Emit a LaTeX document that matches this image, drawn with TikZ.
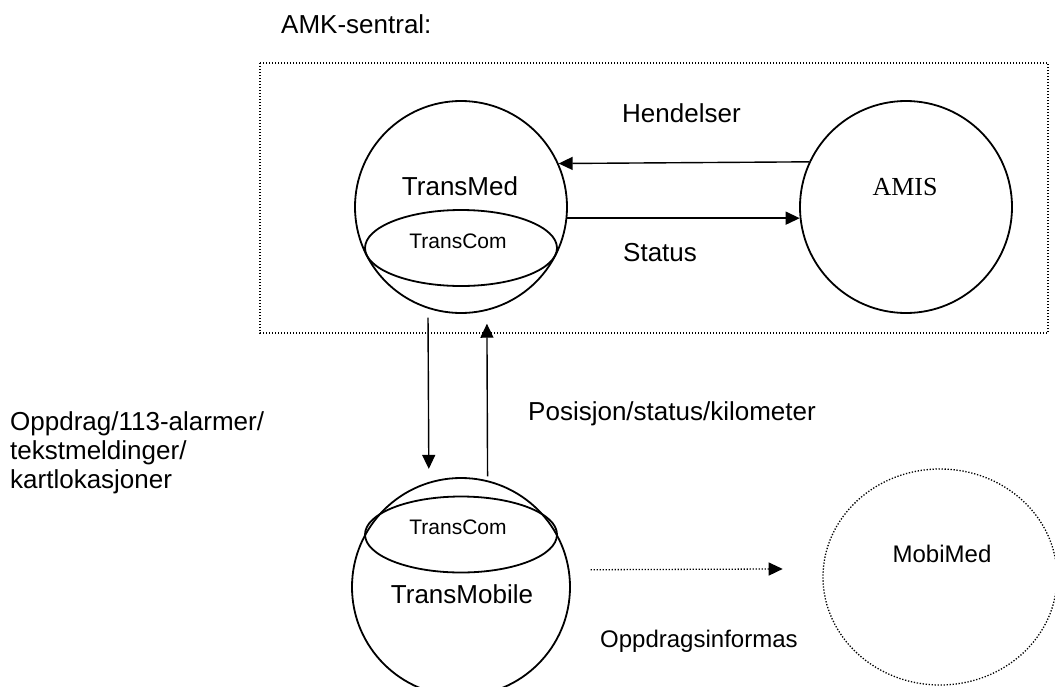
\documentclass[tikz,border=0pt]{standalone}
\usepackage{fontspec}
\setmainfont{Liberation Sans}
\newfontfamily\timesfont{Liberation Serif}
\usetikzlibrary{arrows.meta,shapes.geometric}
\begin{document}
\begin{tikzpicture}[x=1pt,y=-1pt,
  bubble/.style={circle,draw,line width=1.8pt,inner sep=0pt,minimum size=#1},
  comp/.style={ellipse,draw,line width=1.8pt,inner sep=0pt,minimum width=192pt,minimum height=76pt},
  lbl/.style={inner sep=0pt,font=\fontsize{26}{30}\selectfont},
  lblsmall/.style={inner sep=0pt,font=\fontsize{21}{25}\selectfont},
  lblmid/.style={inner sep=0pt,font=\fontsize{24}{28}\selectfont},
  flow/.style={line width=1.4pt,-{Triangle[length=14pt,width=13pt]}},
  dots/.style={line width=1.3pt,dash pattern=on 1.3pt off 1.7pt}]
\useasboundingbox (0,0) rectangle (1055,686);

% AMK-sentral box
\draw[dots] (260,63) rectangle (1048,333);
\node[lbl,anchor=base west] (amk) at (281,33) {AMK-sentral:};

% TransMed
\node[bubble=212pt] (TransMed) at (461,207) {};
\node[comp] (TransComA) at (461,248) {};
\node[lbl,anchor=base] (tmedtxt) at (460,195) {TransMed};
\node[lblsmall,anchor=base] (tcomAtxt) at (458,248) {TransCom};

% AMIS
\node[bubble=212pt] (AMIS) at (906,207) {};
\node[lbl,anchor=base] (amistxt) at (905,195) {\timesfont AMIS};

\draw[flow] (AMIS.155.5) -- (TransMed.24.5);
\draw[flow] (TransMed.-6) -- (AMIS.186);
\node[lbl,anchor=base west] (hend) at (622,122) {Hendelser};
\node[lbl,anchor=base west] (stat) at (623,261) {Status};

% TransMobile
\node[bubble=218pt] (TransMobile) at (461,587) {};
\node[comp] (TransComB) at (461,534.5) {};
\node[lblsmall,anchor=base] (tcomBtxt) at (458,534) {TransCom};
\node[lbl,anchor=base] (tmobtxt) at (462,603) {TransMobile};

\draw[flow,shorten <=9pt,shorten >=13pt] (TransMed.-108) -- (TransMobile.107.8);
\draw[flow,shorten <=4pt,shorten >=13pt] (TransMobile.76.7) -- (TransMed.-76.4);

\node[lbl,anchor=base west] (oppA) at (10,430) {Oppdrag/113-alarmer/};
\node[lbl,anchor=base west] (oppB) at (10,459) {tekstmeldinger/};
\node[lbl,anchor=base west] (oppC) at (10,488) {kartlokasjoner};
\node[lbl,anchor=base west] (pos) at (528,420) {Posisjon/status/kilometer};

% MobiMed
\node[ellipse,draw,dots,inner sep=0pt,minimum width=234pt,minimum height=216pt] (MobiMed) at (940,577) {};
\node[lblmid,anchor=base] (mobtxt) at (942,562) {MobiMed};

\draw[flow,dots,shorten <=21pt,shorten >=40pt] (TransMobile.9) -- (MobiMed.176.6);
\node[lblmid,anchor=base west] (oppinf) at (600,647) {Oppdragsinformas};
\end{tikzpicture}
\end{document}
